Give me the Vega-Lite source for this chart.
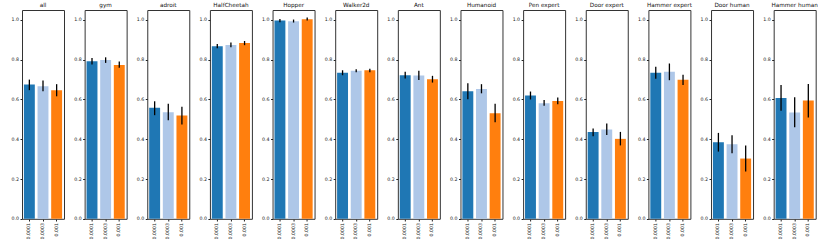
{
 "$schema": "https://vega.github.io/schema/vega-lite/v6.json",
 "padding": {"left": 10, "top": 2, "right": 0, "bottom": 0},
 "config": {
  "font": "DejaVu Sans",
  "view": {"stroke": "#333", "strokeWidth": 1},
  "axis": {"labelFont": "DejaVu Sans", "labelFontSize": 4.7, "labelColor": "#222", "tickColor": "#222", "tickSize": 2, "labelPadding": 1.5, "domain": false, "grid": false, "title": null}
 },
 "data": {"values": [
  {"panel": "all", "lr": "0.0001", "value": 0.675, "lo": 0.647, "hi": 0.700},
  {"panel": "all", "lr": "0.0003", "value": 0.667, "lo": 0.642, "hi": 0.695},
  {"panel": "all", "lr": "0.001", "value": 0.647, "lo": 0.616, "hi": 0.677},
  {"panel": "gym", "lr": "0.0001", "value": 0.792, "lo": 0.776, "hi": 0.809},
  {"panel": "gym", "lr": "0.0003", "value": 0.799, "lo": 0.784, "hi": 0.812},
  {"panel": "gym", "lr": "0.001", "value": 0.774, "lo": 0.759, "hi": 0.791},
  {"panel": "adroit", "lr": "0.0001", "value": 0.558, "lo": 0.521, "hi": 0.591},
  {"panel": "adroit", "lr": "0.0003", "value": 0.536, "lo": 0.496, "hi": 0.578},
  {"panel": "adroit", "lr": "0.001", "value": 0.519, "lo": 0.474, "hi": 0.563},
  {"panel": "HalfCheetah", "lr": "0.0001", "value": 0.868, "lo": 0.858, "hi": 0.879},
  {"panel": "HalfCheetah", "lr": "0.0003", "value": 0.874, "lo": 0.863, "hi": 0.886},
  {"panel": "HalfCheetah", "lr": "0.001", "value": 0.884, "lo": 0.873, "hi": 0.894},
  {"panel": "Hopper", "lr": "0.0001", "value": 0.997, "lo": 0.988, "hi": 1.005},
  {"panel": "Hopper", "lr": "0.0003", "value": 0.993, "lo": 0.987, "hi": 1.002},
  {"panel": "Hopper", "lr": "0.001", "value": 1.003, "lo": 0.997, "hi": 1.012},
  {"panel": "Walker2d", "lr": "0.0001", "value": 0.735, "lo": 0.722, "hi": 0.747},
  {"panel": "Walker2d", "lr": "0.0003", "value": 0.745, "lo": 0.737, "hi": 0.752},
  {"panel": "Walker2d", "lr": "0.001", "value": 0.747, "lo": 0.737, "hi": 0.755},
  {"panel": "Ant", "lr": "0.0001", "value": 0.722, "lo": 0.705, "hi": 0.740},
  {"panel": "Ant", "lr": "0.0003", "value": 0.720, "lo": 0.698, "hi": 0.745},
  {"panel": "Ant", "lr": "0.001", "value": 0.702, "lo": 0.685, "hi": 0.719},
  {"panel": "Humanoid", "lr": "0.0001", "value": 0.642, "lo": 0.601, "hi": 0.682},
  {"panel": "Humanoid", "lr": "0.0003", "value": 0.653, "lo": 0.631, "hi": 0.677},
  {"panel": "Humanoid", "lr": "0.001", "value": 0.531, "lo": 0.486, "hi": 0.578},
  {"panel": "Pen expert", "lr": "0.0001", "value": 0.620, "lo": 0.600, "hi": 0.640},
  {"panel": "Pen expert", "lr": "0.0003", "value": 0.581, "lo": 0.568, "hi": 0.598},
  {"panel": "Pen expert", "lr": "0.001", "value": 0.593, "lo": 0.576, "hi": 0.610},
  {"panel": "Door expert", "lr": "0.0001", "value": 0.436, "lo": 0.415, "hi": 0.454},
  {"panel": "Door expert", "lr": "0.0003", "value": 0.449, "lo": 0.422, "hi": 0.479},
  {"panel": "Door expert", "lr": "0.001", "value": 0.402, "lo": 0.369, "hi": 0.437},
  {"panel": "Hammer expert", "lr": "0.0001", "value": 0.734, "lo": 0.704, "hi": 0.764},
  {"panel": "Hammer expert", "lr": "0.0003", "value": 0.740, "lo": 0.697, "hi": 0.781},
  {"panel": "Hammer expert", "lr": "0.001", "value": 0.699, "lo": 0.673, "hi": 0.725},
  {"panel": "Door human", "lr": "0.0001", "value": 0.385, "lo": 0.338, "hi": 0.432},
  {"panel": "Door human", "lr": "0.0003", "value": 0.375, "lo": 0.330, "hi": 0.420},
  {"panel": "Door human", "lr": "0.001", "value": 0.303, "lo": 0.238, "hi": 0.369},
  {"panel": "Hammer human", "lr": "0.0001", "value": 0.608, "lo": 0.543, "hi": 0.673},
  {"panel": "Hammer human", "lr": "0.0003", "value": 0.534, "lo": 0.461, "hi": 0.611},
  {"panel": "Hammer human", "lr": "0.001", "value": 0.595, "lo": 0.509, "hi": 0.678}
 ]},
 "facet": {"column": {"field": "panel", "type": "nominal",
   "sort": ["all", "gym", "adroit", "HalfCheetah", "Hopper", "Walker2d", "Ant", "Humanoid", "Pen expert", "Door expert", "Hammer expert", "Door human", "Hammer human"],
   "header": {"title": null, "labelFont": "DejaVu Sans", "labelFontSize": 5.7, "labelColor": "#111", "labelPadding": 2}}},
 "spacing": 20.64,
 "bounds": "flush",
 "resolve": {"axis": {"y": "independent"}},
 "spec": {
  "width": 42,
  "height": 208.8,
  "layer": [
   {"mark": {"type": "bar"},
    "encoding": {
     "x": {"field": "lr", "type": "nominal", "sort": ["0.0001", "0.0003", "0.001"],
       "scale": {"paddingInner": 0.2, "paddingOuter": 0.14},
       "axis": {"labelAngle": -90, "title": null}},
     "y": {"field": "value", "type": "quantitative", "scale": {"domain": [0, 1.05], "nice": false},
       "axis": {"values": [0, 0.2, 0.4, 0.6, 0.8, 1.0], "format": ".1f", "title": null}},
     "color": {"field": "lr", "type": "nominal", "sort": ["0.0001", "0.0003", "0.001"],
       "scale": {"domain": ["0.0001", "0.0003", "0.001"], "range": ["#1f77b4", "#aec7e8", "#ff7f0e"]}, "legend": null}
    }},
   {"mark": {"type": "rule", "color": "black", "strokeWidth": 1.3},
    "encoding": {
     "x": {"field": "lr", "type": "nominal", "sort": ["0.0001", "0.0003", "0.001"]},
     "y": {"field": "lo", "type": "quantitative"},
     "y2": {"field": "hi"}
    }}
  ]
 }
}
